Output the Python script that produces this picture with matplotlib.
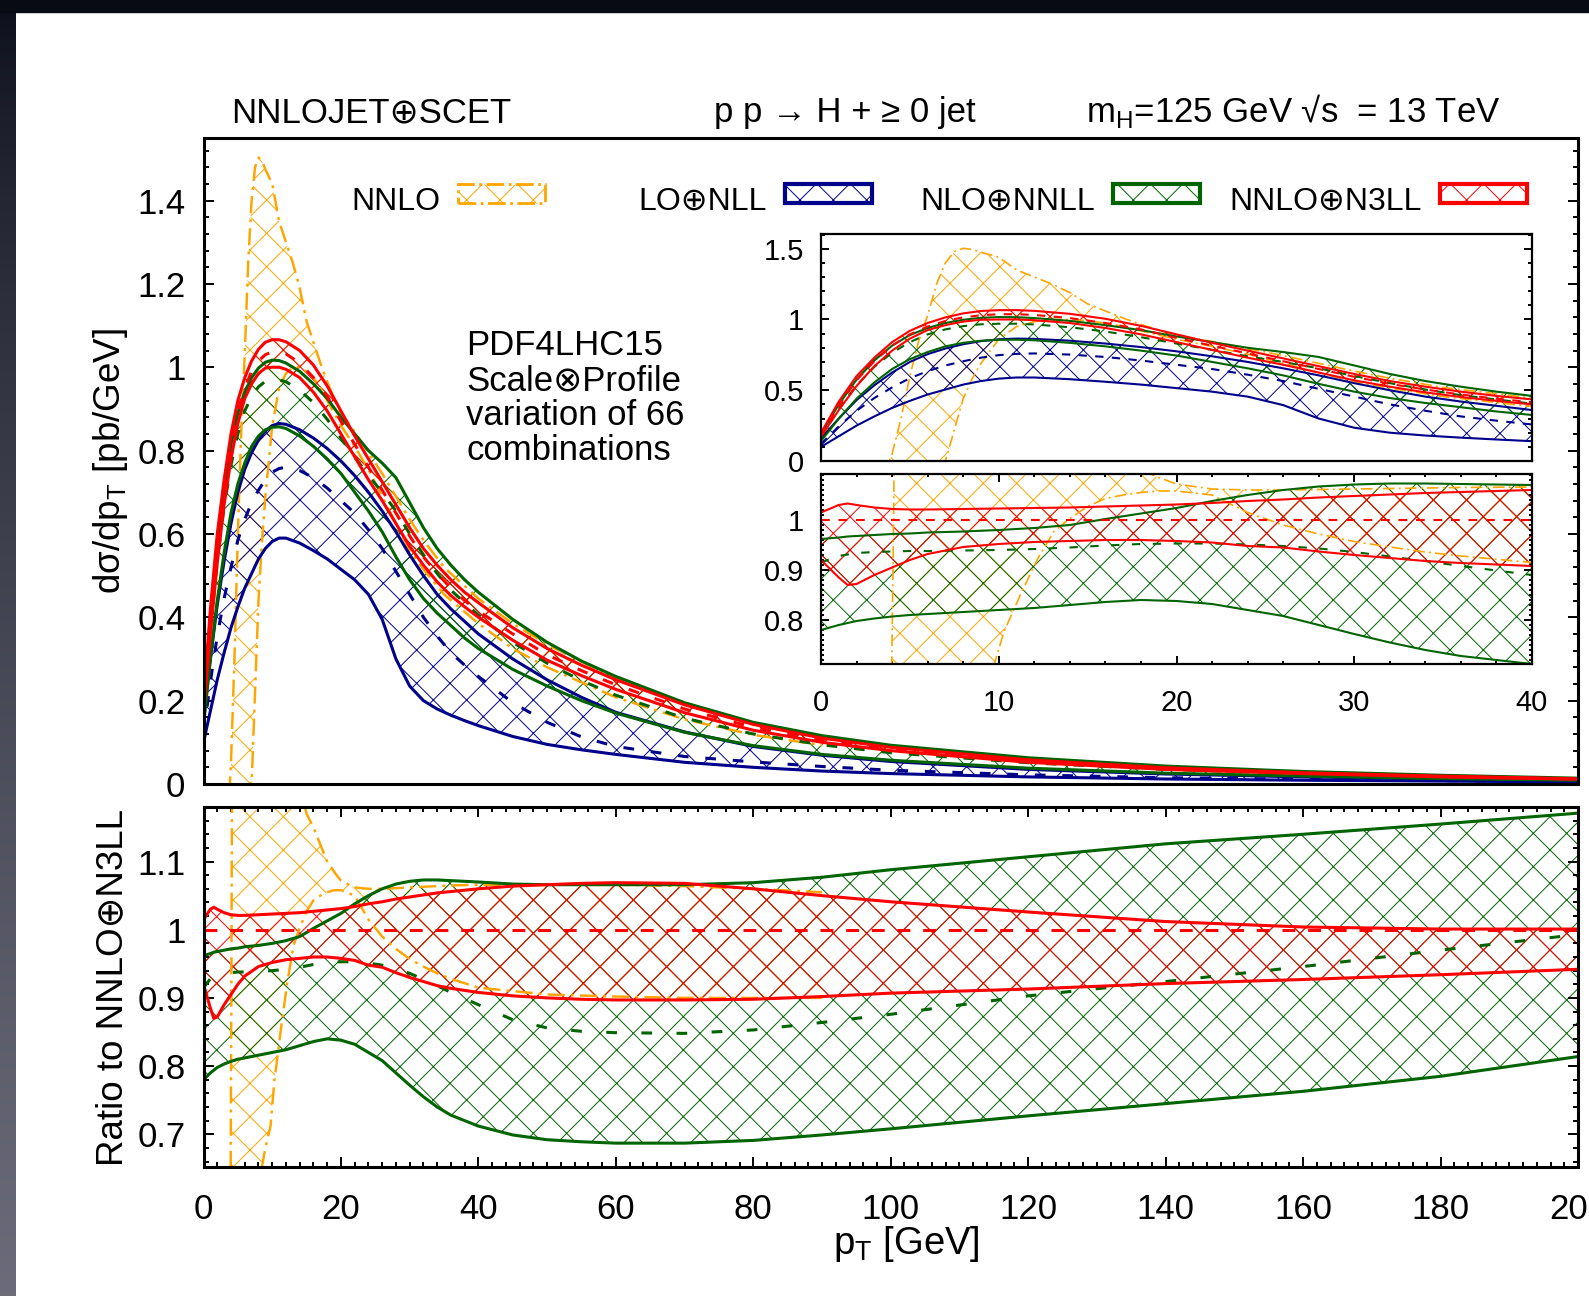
import numpy as np
import matplotlib
matplotlib.use('Agg')
import matplotlib.pyplot as plt
from matplotlib.patches import Rectangle
from matplotlib.ticker import MultipleLocator, FuncFormatter

plt.rcParams['font.family'] = ['Liberation Sans', 'DejaVu Sans']
plt.rcParams['mathtext.fontset'] = 'custom'
plt.rcParams['mathtext.rm'] = 'Liberation Sans'
plt.rcParams['hatch.linewidth'] = 0.7

# ---------------- spectrum dsigma/dpT [pb/GeV] ----------------
pt = [0, 1, 2, 3, 4, 5, 6, 7, 8, 9, 10, 11, 12, 14, 16, 18, 20, 22, 24, 26,
      28, 30, 32, 34, 36, 38, 40, 45, 50, 55, 60, 70, 80, 90, 100, 120, 140,
      160, 180, 200]

n3ll_hi = [0.20, 0.42, 0.60, 0.73, 0.84, 0.92, 0.975, 1.015, 1.043, 1.06, 1.066,
           1.066, 1.061, 1.04, 1.005, 0.955, 0.895, 0.835, 0.78, 0.725, 0.67,
           0.615, 0.565, 0.525, 0.49, 0.46, 0.435, 0.375, 0.325, 0.285, 0.25,
           0.19, 0.143, 0.11, 0.088, 0.058, 0.039, 0.027, 0.019, 0.0125]
n3ll_mid = [0.18, 0.39, 0.57, 0.705, 0.815, 0.895, 0.95, 0.99, 1.015, 1.03,
            1.037, 1.037, 1.032, 1.01, 0.975, 0.93, 0.87, 0.815, 0.76, 0.705,
            0.65, 0.595, 0.545, 0.505, 0.47, 0.44, 0.415, 0.36, 0.31, 0.272,
            0.238, 0.18, 0.136, 0.105, 0.084, 0.055, 0.037, 0.026, 0.018, 0.012]
n3ll_lo = [0.17, 0.36, 0.53, 0.67, 0.78, 0.865, 0.925, 0.96, 0.985, 0.998, 1.0,
           1.0, 0.995, 0.975, 0.94, 0.895, 0.84, 0.785, 0.73, 0.68, 0.625, 0.57,
           0.525, 0.485, 0.452, 0.425, 0.40, 0.345, 0.297, 0.26, 0.227, 0.171,
           0.129, 0.10, 0.08, 0.052, 0.035, 0.025, 0.017, 0.0115]

nnll_hi = [0.19, 0.40, 0.575, 0.71, 0.815, 0.89, 0.94, 0.975, 0.998, 1.012,
           1.017, 1.016, 1.01, 0.99, 0.96, 0.925, 0.88, 0.84, 0.80, 0.77, 0.735,
           0.675, 0.615, 0.565, 0.525, 0.49, 0.46, 0.395, 0.34, 0.295, 0.258,
           0.195, 0.148, 0.116, 0.093, 0.063, 0.043, 0.03, 0.021, 0.014]
nnll_mid = [0.17, 0.37, 0.535, 0.665, 0.765, 0.84, 0.895, 0.93, 0.953, 0.966,
            0.97, 0.97, 0.965, 0.945, 0.915, 0.875, 0.83, 0.785, 0.74, 0.70,
            0.655, 0.60, 0.55, 0.505, 0.465, 0.435, 0.405, 0.34, 0.29, 0.248,
            0.213, 0.158, 0.12, 0.094, 0.075, 0.051, 0.035, 0.025, 0.018, 0.012]
nnll_lo = [0.14, 0.30, 0.44, 0.555, 0.65, 0.72, 0.77, 0.81, 0.835, 0.85, 0.856,
           0.857, 0.853, 0.835, 0.81, 0.78, 0.745, 0.70, 0.655, 0.605, 0.545,
           0.49, 0.445, 0.41, 0.38, 0.35, 0.325, 0.275, 0.235, 0.2, 0.17, 0.124,
           0.092, 0.071, 0.057, 0.038, 0.026, 0.019, 0.013, 0.009]

nll_hi = [0.16, 0.30, 0.43, 0.535, 0.625, 0.70, 0.755, 0.795, 0.825, 0.847,
          0.86, 0.865, 0.863, 0.85, 0.83, 0.805, 0.775, 0.74, 0.70, 0.655, 0.605,
          0.55, 0.50, 0.455, 0.42, 0.39, 0.36, 0.30, 0.25, 0.208, 0.172, 0.125,
          0.09, 0.069, 0.054, 0.035, 0.024, 0.017, 0.012, 0.008]
nll_mid = [0.12, 0.245, 0.355, 0.445, 0.52, 0.585, 0.635, 0.675, 0.705, 0.73,
           0.748, 0.757, 0.76, 0.752, 0.735, 0.71, 0.68, 0.65, 0.61, 0.565,
           0.51, 0.455, 0.40, 0.355, 0.315, 0.285, 0.258, 0.195, 0.148, 0.113,
           0.09, 0.066, 0.053, 0.042, 0.033, 0.022, 0.015, 0.011, 0.008, 0.006]
nll_lo = [0.10, 0.175, 0.25, 0.315, 0.375, 0.425, 0.47, 0.505, 0.54, 0.565,
          0.582, 0.59, 0.59, 0.578, 0.56, 0.54, 0.515, 0.49, 0.455, 0.395, 0.30,
          0.235, 0.20, 0.18, 0.165, 0.152, 0.14, 0.114, 0.095, 0.082, 0.071,
          0.052, 0.04, 0.031, 0.025, 0.017, 0.012, 0.009, 0.007, 0.005]

pt_nnlo = [3.5, 4.0, 4.5, 5, 5.5, 6, 6.5, 7, 7.5, 8, 8.5, 9, 10, 11, 12, 13, 14,
           15, 16, 17, 18, 19, 20, 22, 24, 26, 28, 30, 32, 35, 40, 45, 50, 60,
           70, 80, 90]
nnlo_hi = [-0.1, 0.05, 0.30, 0.60, 0.85, 1.03, 1.25, 1.40, 1.48, 1.503, 1.495,
           1.475, 1.44, 1.35, 1.30, 1.25, 1.19, 1.11, 1.06, 1.01, 0.965, 0.925,
           0.89, 0.845, 0.795, 0.745, 0.69, 0.635, 0.585, 0.52, 0.445, 0.385,
           0.335, 0.252, 0.19, 0.145, 0.113]
nnlo_lo = [-0.5, -0.45, -0.4, -0.35, -0.28, -0.2, -0.08, 0.0, 0.22, 0.44, 0.58,
           0.69, 0.86, 0.95, 0.985, 1.0, 1.0, 0.99, 0.975, 0.95, 0.92, 0.89, 0.86,
           0.81, 0.755, 0.69, 0.625, 0.56, 0.515, 0.455, 0.385, 0.325, 0.28,
           0.208, 0.155, 0.118, 0.093]

# ---------------- ratio to NNLO+N3LL central ----------------
pt_r = [0, 1, 1.5, 2, 3, 4, 5, 6, 8, 10, 12, 14, 16, 18, 20, 22, 24, 26, 28,
        30, 32, 34, 36, 40, 45, 50, 55, 60, 70, 80, 90, 100, 120, 140, 160, 180,
        200]

r_n3ll_hi = [1.015, 1.03, 1.033, 1.03, 1.025, 1.022, 1.021, 1.021, 1.022,
             1.023, 1.024, 1.025, 1.027, 1.029, 1.031, 1.034, 1.038, 1.041,
             1.045, 1.048, 1.051, 1.054, 1.056, 1.06, 1.064, 1.066, 1.068,
             1.069, 1.068, 1.06, 1.05, 1.041, 1.026, 1.012, 1.004, 1.001, 1.001]
r_n3ll_lo = [0.92, 0.885, 0.87, 0.872, 0.89, 0.905, 0.92, 0.932, 0.946, 0.952,
             0.956, 0.958, 0.96, 0.96, 0.958, 0.955, 0.948, 0.945, 0.937, 0.93,
             0.924, 0.918, 0.914, 0.908, 0.903, 0.90, 0.898, 0.897, 0.897,
             0.898, 0.902, 0.907, 0.913, 0.921, 0.927, 0.934, 0.942]
r_n3ll_mid = [1.0] * len(pt_r)

r_nnll_hi = [0.962, 0.965, 0.967, 0.968, 0.97, 0.972, 0.973, 0.975, 0.977,
             0.98, 0.984, 0.99, 1.002, 1.013, 1.024, 1.038, 1.05, 1.06, 1.067,
             1.071, 1.073, 1.073, 1.072, 1.07, 1.067, 1.066, 1.066, 1.066,
             1.066, 1.069, 1.077, 1.088, 1.107, 1.126, 1.14, 1.155, 1.171]
r_nnll_lo = [0.78, 0.79, 0.794, 0.798, 0.803, 0.807, 0.81, 0.812, 0.816, 0.82,
             0.824, 0.83, 0.836, 0.84, 0.838, 0.832, 0.82, 0.808, 0.79, 0.772,
             0.755, 0.74, 0.728, 0.712, 0.699, 0.692, 0.689, 0.687, 0.687,
             0.691, 0.699, 0.708, 0.727, 0.745, 0.763, 0.785, 0.814]
r_nnll_mid = [0.915, 0.928, 0.931, 0.934, 0.936, 0.937, 0.938, 0.938, 0.939,
              0.94, 0.942, 0.945, 0.949, 0.952, 0.953, 0.953, 0.951, 0.948,
              0.943, 0.936, 0.927, 0.918, 0.908, 0.89, 0.868, 0.856, 0.851,
              0.849, 0.848, 0.853, 0.864, 0.876, 0.903, 0.924, 0.946, 0.97,
              0.993]

pt_r_nnlo = [3.6, 3.9, 4.05, 4.2, 5, 6, 7, 8, 8.5, 9, 9.75, 10.3, 11.3, 12.2,
             13.1, 14, 15, 16, 17, 18, 19, 20, 22, 24, 26, 28, 30, 32, 34, 36,
             40, 50, 60, 70, 80, 90]
r_nnlo_hi = [0.0, 0.5, 0.9, 1.4, 1.9, 2.0, 1.9, 1.75, 1.7, 1.65, 1.58, 1.52,
             1.42, 1.34, 1.27, 1.21, 1.17, 1.15, 1.125, 1.10, 1.085, 1.072,
             1.062, 1.06, 1.06, 1.061, 1.062, 1.063, 1.064, 1.065, 1.066, 1.066,
             1.066, 1.064, 1.06, 1.055]
r_nnlo_lo = [-3.0, -2.6, -2.4, -2.2, -1.8, -1.5, -0.3, 0.45, 0.652, 0.68,
             0.712, 0.777, 0.857, 0.923, 0.977, 1.003, 1.027, 1.043, 1.05,
             1.055, 1.058, 1.058, 1.05, 1.015, 0.99, 0.972, 0.957, 0.946,
             0.936, 0.928, 0.915, 0.905, 0.902, 0.90, 0.90, 0.90]

legend_labels = ['NNLO', 'LO⊕NLL', 'NLO⊕NNLL', 'NNLO⊕N3LL']

ORANGE = '#ffa500'
BLUE = '#00008b'
GREEN = '#006400'
RED = '#ff0000'

W, H = 1589, 1296
fig = plt.figure(figsize=(W / 100, H / 100), dpi=100)


def fax(left, top, right, bottom):
    return [left / W, 1 - bottom / H, (right - left) / W, (bottom - top) / H]


def band(ax, x, lo, hi, color, lw, edge_ls='-'):
    ax.fill_between(x, lo, hi, facecolor='none', edgecolor=color, hatch='x',
                    linewidth=0)
    ax.plot(x, lo, color=color, lw=lw, ls=edge_ls)
    ax.plot(x, hi, color=color, lw=lw, ls=edge_ls)


def spectrum(ax, lw, dash, dashdot):
    band(ax, pt_nnlo, nnlo_lo, nnlo_hi, ORANGE, lw * 0.8, dashdot)
    band(ax, pt, nll_lo, nll_hi, BLUE, lw)
    ax.plot(pt, nll_mid, color=BLUE, lw=lw, ls=dash)
    band(ax, pt, nnll_lo, nnll_hi, GREEN, lw)
    ax.plot(pt, nnll_mid, color=GREEN, lw=lw, ls=dash)
    band(ax, pt, n3ll_lo, n3ll_hi, RED, lw)
    ax.plot(pt, n3ll_mid, color=RED, lw=lw, ls=dash)


def ratio(ax, lw, dash, dashdot):
    band(ax, pt_r_nnlo, r_nnlo_lo, r_nnlo_hi, ORANGE, lw * 0.8, dashdot)
    band(ax, pt_r, r_nnll_lo, r_nnll_hi, GREEN, lw)
    ax.plot(pt_r, r_nnll_mid, color=GREEN, lw=lw, ls=dash)
    band(ax, pt_r, r_n3ll_lo, r_n3ll_hi, RED, lw)
    ax.plot(pt_r, r_n3ll_mid, color=RED, lw=lw, ls=(0, (4.2, 4.2)))


fmt = FuncFormatter(lambda v, _: '%g' % round(v, 3))


def style(ax, frame_lw, size, ypad, xpad=None, maj=7, mnr=3.6):
    for s in ax.spines.values():
        s.set_linewidth(frame_lw)
    ax.tick_params(which='both', direction='in', width=1.4, labelsize=size)
    ax.tick_params(which='major', length=maj)
    ax.tick_params(which='minor', length=mnr)
    ax.tick_params(axis='y', which='both', left=True, right=True, pad=ypad)
    if xpad is None:
        ax.tick_params(axis='x', which='both', bottom=False, top=False,
                       labelbottom=False)
    else:
        ax.tick_params(axis='x', which='both', bottom=True, top=True, pad=xpad)
    ax.yaxis.set_major_formatter(fmt)
    ax.xaxis.set_major_formatter(fmt)


main_dash = (0, (3.5, 5.5))
main_dd = (0, (7, 2.5, 1.2, 2.5))

# main spectrum panel
ax = fig.add_axes(fax(203.5, 138, 1578, 784))
spectrum(ax, 2.2, main_dash, main_dd)
ax.set_xlim(0, 200)
ax.set_ylim(0, 1.55)
ax.yaxis.set_major_locator(MultipleLocator(0.2))
ax.yaxis.set_minor_locator(MultipleLocator(0.04))
style(ax, 2.2, 25, 13)

# key: fixed-width columns, text right-aligned in front of a hatched sample
key_styles = [(ORANGE, '-.', 2.0), (BLUE, '-', 3.0), (GREEN, '-', 3.0),
              (RED, '-', 3.0)]
key_right = [545, 872, 1200, 1527]
for label, (col, ls, lw), right in zip(legend_labels, key_styles, key_right):
    fig.add_artist(Rectangle(((right - 87) / W, 1 - 203 / H), 87 / W, 19 / H,
                             transform=fig.transFigure, facecolor='white',
                             edgecolor=col, hatch='x', lw=lw, ls=ls))
    fig.text((right - 105) / W, 1 - 210 / H, label, fontsize=23, ha='right',
             va='baseline')

fig.text(466 / W, 1 - 329 / H,
         'PDF4LHC15\nScale⊗Profile\nvariation of 66\ncombinations',
         fontsize=25, va='top', ha='left', linespacing=1.08)

# ratio panel
axr = fig.add_axes(fax(203.5, 807, 1578, 1167))
ratio(axr, 2.2, (0, (3.5, 8)), main_dd)
axr.set_xlim(0, 200)
axr.set_ylim(0.652, 1.18)
axr.xaxis.set_major_locator(MultipleLocator(20))
axr.xaxis.set_minor_locator(MultipleLocator(2))
axr.yaxis.set_major_locator(MultipleLocator(0.1))
axr.yaxis.set_minor_locator(MultipleLocator(0.02))
style(axr, 2.2, 25, 13, xpad=19)

# inset: spectrum at low pT
axi = fig.add_axes(fax(821, 234, 1532, 461))
spectrum(axi, 1.5, (0, (4, 4)), (0, (7, 2.5, 1.2, 2.5)))
axi.set_xlim(0, 40)
axi.set_ylim(0, 1.604)
axi.yaxis.set_major_locator(MultipleLocator(0.5))
axi.yaxis.set_minor_locator(MultipleLocator(0.1))
style(axi, 1.6, 21, 12, maj=6, mnr=3)

# inset: ratio at low pT
axj = fig.add_axes(fax(821, 474, 1532, 664))
ratio(axj, 1.5, (0, (4, 6)), (0, (7, 2.5, 1.2, 2.5)))
axj.set_xlim(0, 40)
axj.set_ylim(0.712, 1.092)
axj.xaxis.set_major_locator(MultipleLocator(10))
axj.xaxis.set_minor_locator(MultipleLocator(2))
axj.yaxis.set_major_locator(MultipleLocator(0.1))
axj.yaxis.set_minor_locator(MultipleLocator(0.01))
style(axj, 1.6, 21, 12, xpad=18, maj=6, mnr=2.5)

# titles and axis labels
base = 1 - 122 / H
fig.text(231 / W, base, 'NNLOJET⊕SCET', fontsize=25, va='baseline')
fig.text(714 / W, base, 'p p → H + ≥ 0 jet', fontsize=25, va='baseline')
fig.text(1086 / W, base, 'm$_{\\mathregular{H}}$=125 GeV √s  = 13 TeV',
         fontsize=25, va='baseline')
fig.text(111 / W, 1 - 461 / H, 'dσ/dp$_{\\mathregular{T}}$ [pb/GeV]',
         fontsize=26.5, rotation=90, ha='center', va='center')
fig.text(113 / W, 1 - 988 / H, 'Ratio to NNLO⊕N3LL',
         fontsize=26.5, rotation=90, ha='center', va='center')
fig.text(906 / W, 1 - 1244 / H, 'p$_{\\mathregular{T}}$ [GeV]',
         fontsize=27.5, ha='center', va='center')

# dark slide border on the top and left edges
fig.add_artist(Rectangle((0, 1 - 12 / H), 1, 12 / H, transform=fig.transFigure,
                         color='#080a14', zorder=10))
edge = fig.add_axes([0, 0, 16 / W, 1])
top_c = np.array([0.04, 0.05, 0.10])
bot_c = np.array([0.42, 0.42, 0.48])
t = np.linspace(0, 1, 256)[:, None] ** 0.7
edge.imshow((top_c + (bot_c - top_c) * t)[:, None, :], aspect='auto')
edge.axis('off')

fig.savefig('out.png', dpi=100)
